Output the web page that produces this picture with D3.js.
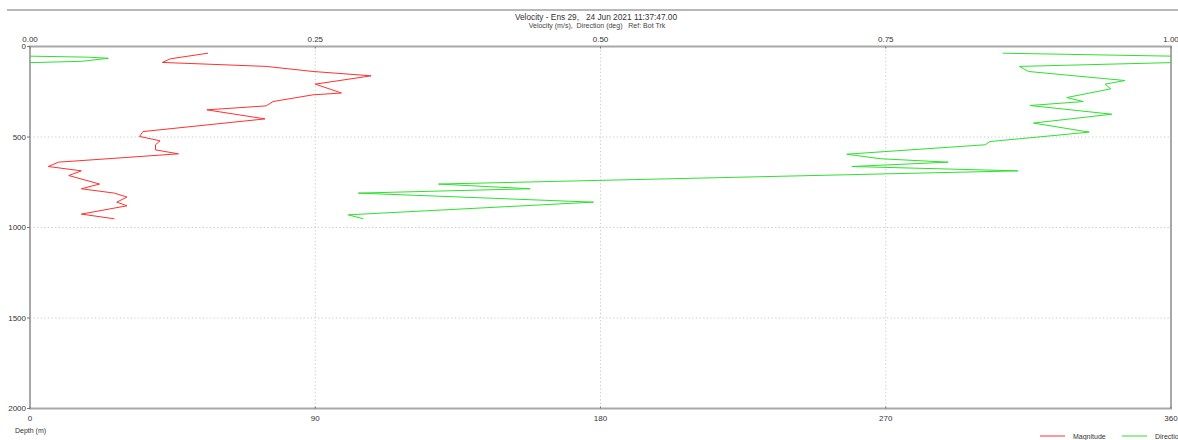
<!DOCTYPE html>
<html lang="en">
<head>
<meta charset="UTF-8">
<title>Velocity profile</title>
<style>
    body { margin: 0; background: #fff; }
    svg { display: block; font-family: "Liberation Sans", Arial, sans-serif; }
    text { white-space: pre; }
    .tick-label { font-size: 8px; fill: #333; }
    .grid line { stroke: #c8c8c8; stroke-dasharray: 1.2, 2.4; }
</style>
</head>
<body>
<svg id="chart" width="1178" height="440"></svg>
<script src="https://cdn.jsdelivr.net/npm/d3@7"></script>
<script>
    // magnitude (m/s) against depth (m)
    var magDepth = [37, 68, 88, 110, 138, 162, 208, 257, 267, 304, 328, 350, 400, 470, 497, 521, 543, 571, 593, 639, 663, 687, 713, 760, 786, 810, 832, 860, 880, 926, 952];
    var magVel = [0.156, 0.123, 0.116, 0.207, 0.248, 0.299, 0.250, 0.273, 0.248, 0.213, 0.207, 0.155, 0.206, 0.099, 0.096, 0.114, 0.110, 0.110, 0.130, 0.025, 0.016, 0.045, 0.034, 0.061, 0.045, 0.074, 0.085, 0.076, 0.085, 0.045, 0.074];

    // direction (deg) against depth (m); values above 360 wrap round to the left edge
    var dirDepth = [37, 59, 65, 82, 110, 138, 188, 208, 234, 282, 304, 326, 374, 423, 473, 501, 525, 543, 595, 620, 639, 663, 687, 760, 786, 810, 860, 930, 952];
    var dirDeg = [306.9, 378.4, 384.7, 376.3, 312.2, 315.0, 345.5, 339.2, 341.0, 327.1, 332.3, 315.5, 341.3, 316.6, 334.2, 317.6, 302.9, 301.3, 257.7, 268.2, 289.7, 259.3, 311.7, 128.9, 157.8, 103.6, 177.8, 100.4, 105.2];

    var velTicks = [0, 0.25, 0.5, 0.75, 1];
    var degTicks = [0, 90, 180, 270, 360];
    var depthTicks = [0, 500, 1000, 1500, 2000];

    var pLeft = 30, pRight = 1171, pTop = 46.5, pBottom = 408.5;
    var svg = d3.select("#chart");

    var xVel = d3.scaleLinear().domain([0, 1]).range([pLeft, pRight]);
    var xDeg = d3.scaleLinear().domain([0, 360]).range([pLeft, pRight]);
    var y = d3.scaleLinear().domain([0, 2000]).range([pTop, pBottom]);

    // top rule and titles
    svg.append("line")
        .attr("x1", 7).attr("x2", 1178).attr("y1", 10).attr("y2", 10)
        .attr("stroke", "#a0a0a0").attr("stroke-width", 1.5);

    svg.append("text")
        .attr("x", 596).attr("y", 19.5)
        .attr("text-anchor", "middle")
        .style("font-size", "8.3px").style("fill", "#333")
        .text("Velocity - Ens 29,   24 Jun 2021 11:37:47.00");

    svg.append("text")
        .attr("x", 597).attr("y", 27.5)
        .attr("text-anchor", "middle")
        .style("font-size", "7px").style("fill", "#444")
        .text("Velocity (m/s),  Direction (deg)   Ref: Bot Trk");

    // grid
    var grid = svg.append("g").attr("class", "grid");
    grid.selectAll(".vg")
        .data(velTicks.slice(1, -1))
        .enter().append("line")
        .attr("x1", d => xVel(d)).attr("x2", d => xVel(d))
        .attr("y1", pTop).attr("y2", pBottom);
    grid.selectAll(".hg")
        .data(depthTicks.slice(1, -1))
        .enter().append("line")
        .attr("x1", pLeft).attr("x2", pRight)
        .attr("y1", d => y(d)).attr("y2", d => y(d));

    // frame
    svg.append("rect")
        .attr("x", pLeft).attr("y", pTop)
        .attr("width", pRight - pLeft).attr("height", pBottom - pTop)
        .attr("fill", "none").attr("stroke", "#a8a8a8").attr("stroke-width", 2);

    // tick labels
    svg.selectAll(".vt")
        .data(velTicks)
        .enter().append("text")
        .attr("class", "tick-label")
        .attr("x", d => xVel(d)).attr("y", 42)
        .attr("text-anchor", "middle")
        .text(d => d.toFixed(2));

    svg.selectAll(".dt")
        .data(degTicks)
        .enter().append("text")
        .attr("class", "tick-label")
        .attr("x", d => xDeg(d)).attr("y", 421)
        .attr("text-anchor", "middle")
        .text(d => d);

    svg.selectAll(".yt")
        .data(depthTicks)
        .enter().append("text")
        .attr("class", "tick-label")
        .attr("x", 26).attr("y", d => y(d) + 2.8)
        .attr("text-anchor", "end")
        .text(d => d);

    // small tick marks on the axes
    svg.selectAll(".ytm")
        .data(depthTicks)
        .enter().append("line")
        .attr("x1", pLeft - 3).attr("x2", pLeft)
        .attr("y1", d => y(d)).attr("y2", d => y(d))
        .attr("stroke", "#777");
    svg.selectAll(".xtm")
        .data(velTicks)
        .enter().append("line")
        .attr("x1", d => xVel(d)).attr("x2", d => xVel(d))
        .attr("y1", pTop).attr("y2", pTop + 2)
        .attr("stroke", "#777");
    svg.selectAll(".btm")
        .data(degTicks)
        .enter().append("line")
        .attr("x1", d => xDeg(d)).attr("x2", d => xDeg(d))
        .attr("y1", pBottom - 2).attr("y2", pBottom)
        .attr("stroke", "#777");

    svg.append("text")
        .attr("class", "tick-label")
        .attr("x", 15).attr("y", 433)
        .style("font-size", "7px")
        .text("Depth (m)");

    // data lines, clipped to the plot
    svg.append("clipPath").attr("id", "plotClip")
        .append("rect")
        .attr("x", pLeft).attr("y", pTop)
        .attr("width", pRight - pLeft).attr("height", pBottom - pTop);

    var plot = svg.append("g").attr("clip-path", "url(#plotClip)");

    var magLine = d3.line()
        .x((d, i) => xVel(magVel[i]))
        .y((d, i) => y(magDepth[i]));

    plot.append("path")
        .attr("d", magLine(magDepth))
        .attr("fill", "none")
        .attr("stroke", "#ff3030")
        .attr("stroke-width", 1);

    [0, -360].forEach(function (shift) {
        var dirLine = d3.line()
            .x((d, i) => xDeg(dirDeg[i] + shift))
            .y((d, i) => y(dirDepth[i]));
        plot.append("path")
            .attr("d", dirLine(dirDepth))
            .attr("fill", "none")
            .attr("stroke", "#2ee02e")
            .attr("stroke-width", 1);
    });

    // legend
    var legend = svg.append("g");
    legend.append("line")
        .attr("x1", 1040).attr("x2", 1065).attr("y1", 436).attr("y2", 436)
        .attr("stroke", "#ff3030");
    legend.append("text")
        .attr("class", "tick-label").style("font-size", "7px")
        .attr("x", 1073).attr("y", 439)
        .text("Magnitude");
    legend.append("line")
        .attr("x1", 1122).attr("x2", 1147).attr("y1", 436).attr("y2", 436)
        .attr("stroke", "#2ee02e");
    legend.append("text")
        .attr("class", "tick-label").style("font-size", "7px")
        .attr("x", 1155).attr("y", 439)
        .text("Direction");
</script>
</body>
</html>
